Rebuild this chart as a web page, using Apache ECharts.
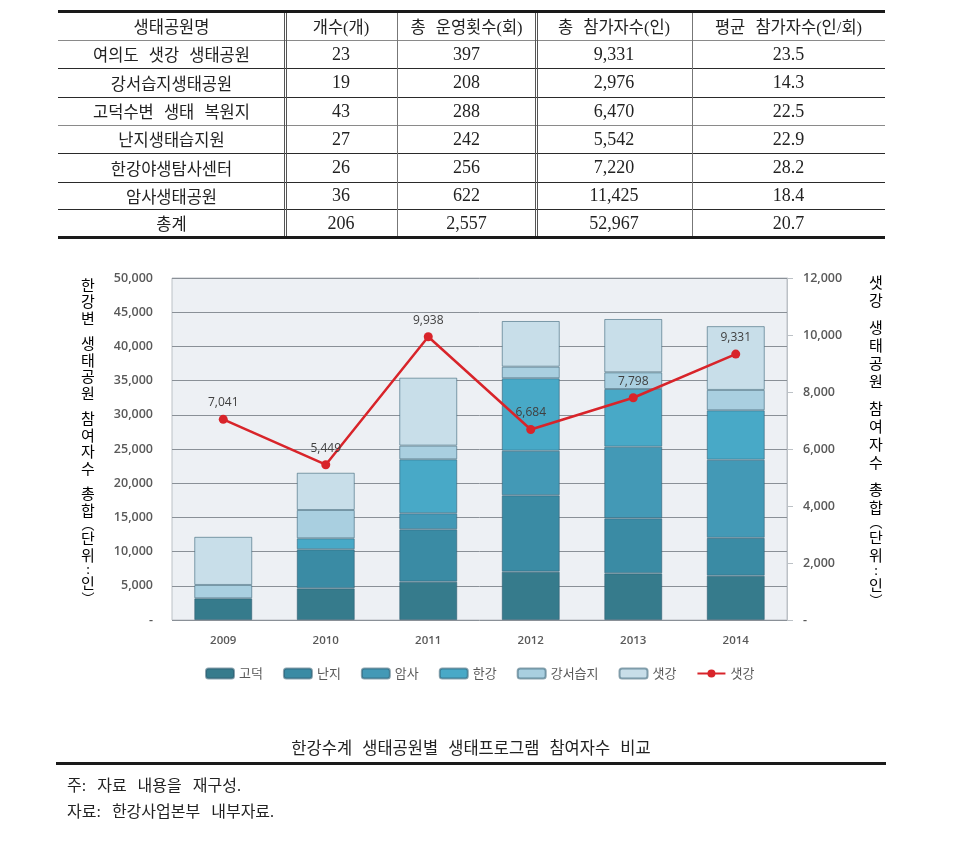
<!DOCTYPE html>
<html>
<head>
<meta charset="utf-8">
<script src="https://cdn.jsdelivr.net/npm/echarts@6/dist/echarts.min.js"></script>
<style>
html,body{margin:0;padding:0;background:#fff;width:969px;height:864px;overflow:hidden;}
#chart{position:absolute;left:0;top:0;width:969px;height:864px;}
.hl,.vl{position:absolute;}
.cell{position:absolute;display:flex;align-items:center;justify-content:center;
  font-family:"Liberation Serif","Noto Sans CJK KR",serif;font-size:16.5px;color:#222;white-space:nowrap;word-spacing:6px;}
.num{font-size:18px;word-spacing:0;}
.txt{position:absolute;font-family:"Liberation Serif","Noto Sans CJK KR",serif;color:#222;white-space:nowrap;font-size:16px;word-spacing:7px;}
</style>
</head>
<body>
<div id="chart"></div>
<div id="overlay"></div>
<script>
// ---------- table data ----------
const tableHeaders = ['생태공원명', '개수(개)', '총 운영횟수(회)', '총 참가자수(인)', '평균 참가자수(인/회)'];
const parkNames = ['여의도 샛강 생태공원', '강서습지생태공원', '고덕수변 생태 복원지', '난지생태습지원', '한강야생탐사센터', '암사생태공원', '총계'];
const programCounts = ['23', '19', '43', '27', '26', '36', '206'];
const totalSessions = ['397', '208', '288', '242', '256', '622', '2,557'];
const totalParticipants = ['9,331', '2,976', '6,470', '5,542', '7,220', '11,425', '52,967'];
const avgParticipants = ['23.5', '14.3', '22.5', '22.9', '28.2', '18.4', '20.7'];

// ---------- chart data ----------
const years = ['2009', '2010', '2011', '2012', '2013', '2014'];
const barNames = ['고덕', '난지', '암사', '한강', '강서습지', '샛강'];
const godeok   = [3170, 4630, 5600, 7060, 6820, 6470];
const nanji    = [null, 5700, 7660, 11170, 8050, 5542];
const amsa     = [null, null, 2340, 6520, 10470, 11425];
const hangang  = [null, 1610, 7890, 10590, 8430, 7220];
const gangseo  = [1950, 4140, 2000, 1690, 2440, 2976];
const saetgang = [7041, 5449, 9938, 6684, 7798, 9331];
const saetgangLine = [7041, 5449, 9938, 6684, 7798, 9331];
const lineName = '샛강 ';
const leftAxisName = '한강변 생태공원 참여자수 총합︵단위:인︶';
const rightAxisName = '샛강 생태공원 참여자수 총합︵단위:인︶';
const caption = '한강수계 생태공원별 생태프로그램 참여자수 비교';
const note1 = '주: 자료 내용을 재구성.';
const note2 = '자료: 한강사업본부 내부자료.';

// ---------- styles ----------
const barColors = ['#367b8c', '#3a8ba4', '#4399b6', '#48a9c7', '#a9cfe0', '#c8dee9'];
const barSeriesData = [godeok, nanji, amsa, hangang, gangseo, saetgang];

// ---------- table (HTML) ----------
const ov = document.getElementById('overlay');
const colX = [58, 285, 397, 536, 692, 885];
const rowY = [12, 40, 68, 97, 125, 153, 182, 209, 237];
function add(cls, css, text) {
  const d = document.createElement('div');
  d.className = cls;
  d.style.cssText = css;
  if (text !== undefined) d.textContent = text;
  ov.appendChild(d);
  return d;
}
const columns = [parkNames, programCounts, totalSessions, totalParticipants, avgParticipants];
for (let c = 0; c < 5; c++) {
  add('cell', `left:${colX[c]}px;top:${rowY[0]}px;width:${colX[c+1]-colX[c]}px;height:${rowY[1]-rowY[0]}px;`, tableHeaders[c]);
  for (let r = 0; r < parkNames.length; r++) {
    add(c === 0 ? 'cell' : 'cell num', `left:${colX[c]}px;top:${rowY[r+1]}px;width:${colX[c+1]-colX[c]}px;height:${rowY[r+2]-rowY[r+1]}px;`, columns[c][r]);
  }
}
// horizontal rules
add('hl', `left:${colX[0]}px;top:10px;width:${colX[5]-colX[0]}px;height:3px;background:#1a1a1a;`);
const hStyles = ['#8a8a8a', '#2a2a2a', '#2a2a2a', '#8a8a8a', '#2a2a2a', '#2a2a2a', '#2a2a2a'];
for (let i = 1; i < rowY.length - 1; i++) {
  add('hl', `left:${colX[0]}px;top:${rowY[i]}px;width:${colX[5]-colX[0]}px;height:1px;background:${hStyles[i-1]};`);
}
add('hl', `left:${colX[0]}px;top:236px;width:${colX[5]-colX[0]}px;height:3px;background:#1a1a1a;`);
// vertical rules
const vDouble = [true, false, true, false];
for (let i = 1; i < 5; i++) {
  if (vDouble[i-1]) {
    add('vl', `left:${colX[i]-1}px;top:13px;width:1px;height:223px;background:#555;`);
    add('vl', `left:${colX[i]+1}px;top:13px;width:1px;height:223px;background:#555;`);
  } else {
    add('vl', `left:${colX[i]}px;top:13px;width:1px;height:223px;background:#777;`);
  }
}
// caption + notes
add('txt', `left:0;width:942px;top:735px;text-align:center;font-size:16.5px;word-spacing:6px;`, caption);
add('hl', `left:56px;top:762px;width:830px;height:3px;background:#1a1a1a;`);
add('txt', `left:67px;top:772px;`, note1);
add('txt', `left:67px;top:798px;`, note2);

// ---------- chart ----------
function vertRich(s) {
  return Array.from(s).map(ch => {
    if (ch === ' ') return '{s| }';
    if ('︵︶:'.includes(ch)) return '{p|' + ch + '}';
    return '{c|' + ch + '}';
  }).join('\n');
}
function richVert(lh) {
  return {
    c: {fontSize: 15, lineHeight: lh, fontFamily: 'Noto Sans CJK KR', color: '#3a3a3a'},
    s: {fontSize: 8, lineHeight: 9, fontFamily: 'Noto Sans CJK KR'},
    p: {fontSize: 13, lineHeight: 12, fontFamily: 'Noto Sans CJK KR', color: '#3a3a3a'}
  };
}

const fmt = v => Number(v).toLocaleString('en-US');
const axisLabelStyle = {fontFamily: 'Open Sans', fontWeight: 600, fontSize: 12.5, color: '#595959'};

const series = barNames.map((n, i) => ({
  name: n,
  type: 'bar',
  stack: 'total',
  barWidth: 58,
  data: barSeriesData[i],
  itemStyle: {color: barColors[i], borderColor: 'rgba(45,90,110,0.55)', borderWidth: 1},
  emphasis: {disabled: true}
}));
series.push({
  name: lineName,
  type: 'line',
  yAxisIndex: 1,
  data: saetgangLine,
  symbol: 'circle',
  symbolSize: 9,
  z: 5,
  itemStyle: {color: '#d8242a'},
  lineStyle: {color: '#d8242a', width: 2.5},
  label: {
    show: true, position: 'top', distance: 6,
    formatter: p => fmt(p.value),
    fontFamily: 'Open Sans', fontSize: 12, color: '#404040'
  },
  emphasis: {disabled: true}
});

const chart = echarts.init(document.getElementById('chart'), null, {renderer: 'canvas'});
chart.setOption({
  animation: false,
  backgroundColor: 'transparent',
  grid: {left: 172, right: 182, top: 278, bottom: 244, show: true,
         backgroundColor: '#edf0f4', borderColor: '#bcc1c6', borderWidth: 1},
  legend: {
    left: 200, top: 662, itemWidth: 28, itemHeight: 10, itemGap: 20,
    data: barNames.concat([lineName]),
    textStyle: {fontFamily: 'Noto Sans CJK KR', fontSize: 13, color: '#595959'}
  },
  xAxis: {
    type: 'category', data: years,
    axisLine: {show: false}, axisTick: {show: false},
    axisLabel: Object.assign({margin: 15}, axisLabelStyle, {fontSize: 11.5})
  },
  yAxis: [
    {
      type: 'value', min: 0, max: 50000, interval: 5000, position: 'left',
      axisLine: {show: false}, axisTick: {show: false},
      splitLine: {lineStyle: {color: '#8a9097', width: 1}},
      axisLabel: Object.assign({margin: 19, formatter: v => v === 0 ? '-' : fmt(v)}, axisLabelStyle)
    },
    {
      type: 'value', min: 0, max: 12000, interval: 2000, position: 'right',
      axisLine: {show: true, lineStyle: {color: '#bcc1c6'}},
      axisTick: {show: true, length: 6, lineStyle: {color: '#bcc1c6'}},
      splitLine: {show: false},
      axisLabel: Object.assign({margin: 16, formatter: v => v === 0 ? '-' : fmt(v)}, axisLabelStyle)
    }
  ],
  graphic: [
    {type: 'text', x: 88, y: 277, style: {text: vertRich(leftAxisName), rich: richVert(16.5), align: 'center', verticalAlign: 'top'}},
    {type: 'text', x: 876, y: 273, style: {text: vertRich(rightAxisName), rich: richVert(18), align: 'center', verticalAlign: 'top'}}
  ],
  series: series
});
</script>
</body>
</html>
